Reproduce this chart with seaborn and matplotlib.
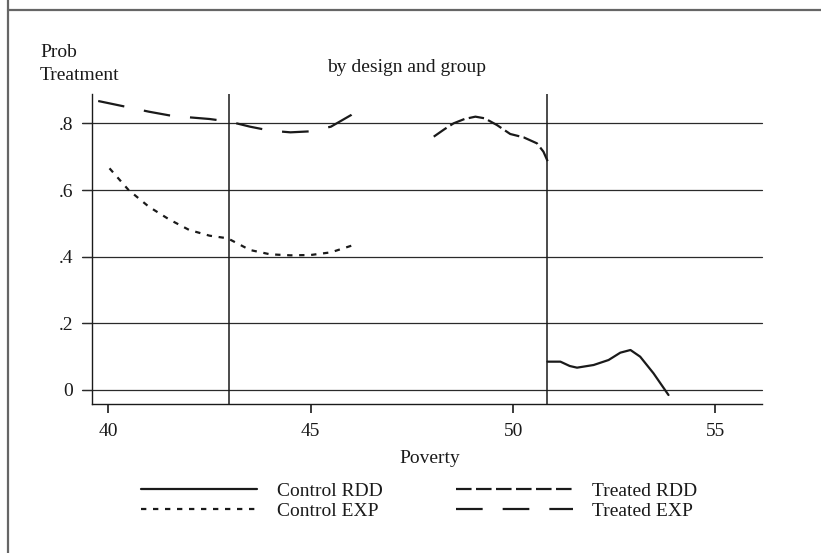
import numpy as np
import pandas as pd
import matplotlib
matplotlib.use("Agg")
import matplotlib.pyplot as plt
from matplotlib.lines import Line2D
import seaborn as sns

# ---- data ----
treated_exp_x = [39.75, 40.5, 41.0, 41.5, 42.0, 42.5, 43.0, 43.5, 44.0, 44.5, 45.0, 45.5, 46.0, 46.2]
treated_exp_y = [0.867, 0.848, 0.835, 0.824, 0.818, 0.813, 0.805, 0.790, 0.778, 0.773, 0.776, 0.790, 0.825, 0.848]

control_exp_x = [40.03, 40.5, 41.0, 41.5, 42.0, 42.5, 42.95, 43.5, 44.0, 44.5, 45.0, 45.5, 46.06]
control_exp_y = [0.665, 0.600, 0.550, 0.512, 0.480, 0.463, 0.455, 0.420, 0.407, 0.404, 0.405, 0.413, 0.435]

treated_rdd_x = [48.04, 48.3, 48.53, 48.8, 49.07, 49.3, 49.6, 49.93, 50.26, 50.59, 50.75, 50.87]
treated_rdd_y = [0.760, 0.782, 0.800, 0.813, 0.820, 0.815, 0.795, 0.768, 0.758, 0.740, 0.715, 0.682]

control_rdd_x = [50.85, 51.17, 51.4, 51.58, 51.99, 52.36, 52.65, 52.9, 53.14, 53.47, 53.84]
control_rdd_y = [0.085, 0.085, 0.072, 0.067, 0.075, 0.090, 0.112, 0.120, 0.100, 0.050, -0.015]

cutoffs = [42.97, 50.83]
x_ticks = [40, 45, 50, 55]
y_ticks = [0, 0.2, 0.4, 0.6, 0.8]
y_tick_labels = ["0", ".2", ".4", ".6", ".8"]
series_labels = ["Control RDD", "Control EXP", "Treated RDD", "Treated EXP"]

# ---- style ----
sns.set_theme(style="ticks")
plt.rcParams["font.family"] = ["Liberation Serif", "DejaVu Serif"]
plt.rcParams["axes.axisbelow"] = False
FS = 14
INK = "#1a1a1a"

fig = plt.figure(figsize=(8.21, 5.53), dpi=100)
ax = fig.add_axes([92 / 821, 1 - 404 / 553, (762 - 92) / 821, (404 - 94) / 553])

frames = {
    "Control RDD": pd.DataFrame({"x": control_rdd_x, "y": control_rdd_y}),
    "Control EXP": pd.DataFrame({"x": control_exp_x, "y": control_exp_y}),
    "Treated RDD": pd.DataFrame({"x": treated_rdd_x, "y": treated_rdd_y}),
    "Treated EXP": pd.DataFrame({"x": treated_exp_x, "y": treated_exp_y}),
}
styles = {
    "Control RDD": "-",
    "Control EXP": (0, (2.4, 3.0)),
    "Treated RDD": (0, (7.0, 2.0)),
    "Treated EXP": (0, (12.0, 9.0)),
}

# grid lines (continuing outward as the y ticks) & cutoffs
tick_frac = 10.0 / 670.0
for yv in y_ticks:
    ax.axhline(yv, xmin=-tick_frac, xmax=1, color="#2a2a2a", lw=0.9,
               zorder=1, clip_on=False)
for xv in cutoffs:
    ax.axvline(xv, color=INK, lw=1.1, zorder=1)

handles = []
for name in series_labels:
    df = frames[name]
    sns.lineplot(data=df, x="x", y="y", ax=ax, color=INK, lw=1.6,
                 linestyle=styles[name], estimator=None, legend=False, zorder=3)
    handles.append(Line2D([0], [0], color=INK, lw=1.6, linestyle=styles[name]))

ax.set_xlim(39.597, 56.15)
ax.set_ylim(-0.042, 0.888)
ax.set_xticks(x_ticks)
ax.set_xticklabels([str(v) for v in x_ticks], fontsize=FS, color=INK)
ax.set_yticks(y_ticks)
ax.set_yticklabels(y_tick_labels, fontsize=FS, color=INK)
ax.tick_params(axis="y", which="major", direction="out", length=7.5, width=0.9,
               color="#2a2a2a", pad=6, left=True, labelleft=True)
ax.tick_params(axis="x", which="major", direction="out", length=6.5, width=1.2,
               color=INK, pad=7, bottom=True, labelbottom=True)
ax.set_xlabel("")
ax.set_ylabel("")
for s in ["top", "right"]:
    ax.spines[s].set_visible(False)
for s in ["left", "bottom"]:
    ax.spines[s].set_visible(True)
    ax.spines[s].set_color(INK)
    ax.spines[s].set_linewidth(1.0)
ax.set_facecolor("white")

# texts
fig.text(40 / 821, 1 - 44 / 553, "Prob\nTreatment", ha="left", va="top",
         fontsize=FS, color=INK, linespacing=1.45)
fig.text(407 / 821, 1 - 72 / 553, "by design and group", ha="center", va="baseline",
         fontsize=FS, color=INK)
fig.text(430 / 821, 1 - 463 / 553, "Poverty", ha="center", va="baseline",
         fontsize=FS, color=INK)

fig.legend(handles, series_labels, loc="center", ncol=2,
           bbox_to_anchor=(419 / 821, 1 - 501 / 553), frameon=False,
           fontsize=FS, handlelength=6.0, handletextpad=1.0,
           columnspacing=3.8, labelspacing=0.15, borderpad=0, labelcolor=INK)

# outer frame lines
fig.add_artist(Line2D([8 / 821, 1], [1 - 10 / 553, 1 - 10 / 553],
                      transform=fig.transFigure, color="#666666", lw=1.6))
fig.add_artist(Line2D([7.5 / 821, 7.5 / 821], [0, 1],
                      transform=fig.transFigure, color="#666666", lw=1.6))

fig.savefig("out.png", dpi=100, facecolor="white")
